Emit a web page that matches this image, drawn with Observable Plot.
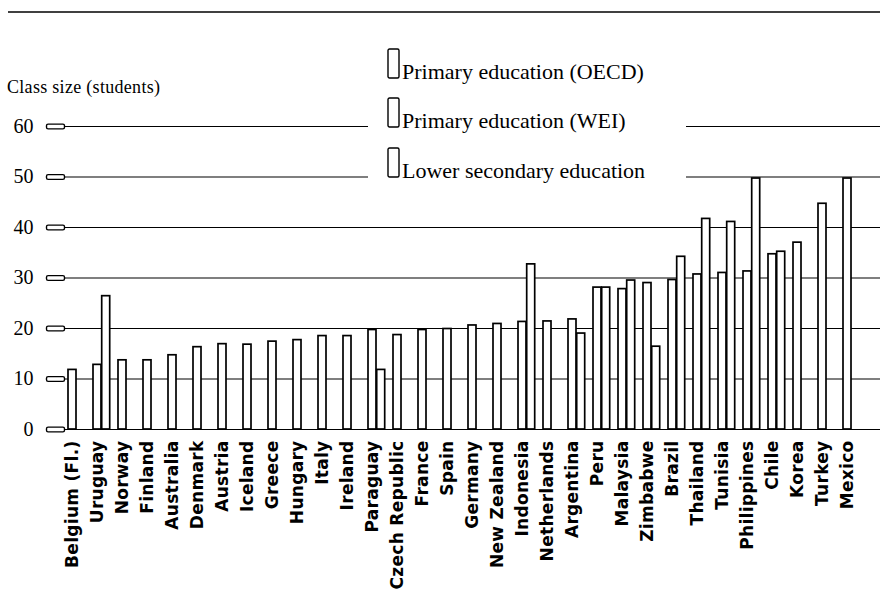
<!DOCTYPE html>
<html>
<head>
<meta charset="utf-8">
<script src="https://cdn.jsdelivr.net/npm/d3@7"></script>
<script src="https://cdn.jsdelivr.net/npm/@observablehq/plot@0.6"></script>
<style>
  html, body { margin: 0; padding: 0; background: #fff; }
  #wrap { position: relative; width: 886px; height: 592px; overflow: hidden; background: #fff; }
  #wrap > svg.overlay { position: absolute; left: 0; top: 0; pointer-events: none; }
  #chart { position: absolute; left: 0; top: 0; }
  #chart svg [aria-label="x-axis tick label"] text { letter-spacing: 0.3px; }
</style>
</head>
<body>
<div id="wrap"><div id="chart"></div></div>
<script>
// ---- data ----
const countries = ["Belgium (Fl.)", "Uruguay", "Norway", "Finland", "Australia", "Denmark", "Austria", "Iceland",
  "Greece", "Hungary", "Italy", "Ireland", "Paraguay", "Czech Republic", "France", "Spain", "Germany",
  "New Zealand", "Indonesia", "Netherlands", "Argentina", "Peru", "Malaysia", "Zimbabwe", "Brazil",
  "Thailand", "Tunisia", "Philippines", "Chile", "Korea", "Turkey", "Mexico"];
const primaryOECD = [11.8, null, 13.7, 13.7, 14.7, 16.3, 16.9, 16.8, 17.4, 17.7, 18.5, 18.5, null, 18.7, 19.7, 19.9, 20.6,
  20.9, null, 21.4, null, null, null, null, null, null, null, null, null, 37.0, 44.7, 49.7];
const primaryWEI = [null, 12.8, null, null, null, null, null, null, null, null, null, null, 19.7, null, null, null, null,
  null, 21.3, null, 21.8, 28.1, 27.8, 29.0, 29.6, 30.7, 31.0, 31.3, 34.7, null, null, null];
const lowerSecondary = [null, 26.4, null, null, null, null, null, null, null, null, null, null, 11.8, null, null, null, null,
  null, 32.7, null, 19.0, 28.1, 29.5, 16.4, 34.2, 41.7, 41.1, 49.7, 35.2, null, null, null];
const seriesNames = ["Primary education (OECD)", "Primary education (WEI)", "Lower secondary education"];
const yTicks = [0, 10, 20, 30, 40, 50, 60];
const yTitle = "Class size (students)";

// ---- tables built from the arrays ----
const primaryRows = countries.map((c, i) => ({
  country: c,
  series: primaryOECD[i] != null ? seriesNames[0] : seriesNames[1],
  value: primaryOECD[i] != null ? primaryOECD[i] : primaryWEI[i]
})).filter(d => d.value != null);
const secondaryRows = countries.map((c, i) => ({country: c, series: seriesNames[2], value: lowerSecondary[i]}))
  .filter(d => d.value != null);

// rounded box symbol used for the y ticks
const boxSymbol = {
  draw(ctx) {
    const w = 9, h = 2.4, r = 1.6;
    ctx.moveTo(-w + r, -h); ctx.lineTo(w - r, -h); ctx.arcTo(w, -h, w, -h + r, r);
    ctx.lineTo(w, h - r); ctx.arcTo(w, h, w - r, h, r);
    ctx.lineTo(-w + r, h); ctx.arcTo(-w, h, -w, h - r, r);
    ctx.lineTo(-w, -h + r); ctx.arcTo(-w, -h, -w + r, -h, r);
    ctx.closePath();
  }
};

const barW = 8.7;
const chart = Plot.plot({
  width: 886,
  height: 592,
  marginLeft: 64,
  marginRight: 6,
  marginTop: 126,
  marginBottom: 163,
  style: {background: "white", color: "black", fontFamily: "Liberation Serif", overflow: "visible"},
  x: {domain: countries, range: [67.65, 877.4], paddingInner: 0.663, paddingOuter: 0, align: 0, label: null},
  y: {domain: [0, 60], label: null},
  marks: [
    Plot.gridY(yTicks, {stroke: "black", strokeOpacity: 1, strokeWidth: 1.2}),
    Plot.axisY(yTicks, {tickSize: 0, tickPadding: 31, fontSize: 20, fontFamily: "Liberation Serif", tickFormat: d => String(d), label: null}),
    Plot.dot(yTicks, {y: d => d, frameAnchor: "left", dx: -9, symbol: boxSymbol, fill: "white", stroke: "black", strokeWidth: 1.4}),
    Plot.barY(primaryRows, {x: "country", y: "value", fill: "white", stroke: "black", strokeWidth: 1.7}),
    Plot.barY(secondaryRows, {x: "country", y: "value", dx: barW, fill: "white", stroke: "black", strokeWidth: 1.7}),
    Plot.axisX({tickSize: 0, tickPadding: 11, tickRotate: -90, fontSize: 17, fontWeight: "bold", fontFamily: "DejaVu Sans", label: null})
  ]
});
document.getElementById("chart").appendChild(chart);

// ---- overlay: top rule, title and legend ----
const ns = "http://www.w3.org/2000/svg";
const ov = d3.select("#wrap").append("svg").attr("class", "overlay")
  .attr("width", 886).attr("height", 592).attr("xmlns", ns);
ov.append("line").attr("x1", 8).attr("x2", 880).attr("y1", 12).attr("y2", 12)
  .attr("stroke", "black").attr("stroke-width", 1.3);
ov.append("text").attr("x", 7).attr("y", 93).text(yTitle)
  .attr("font-family", "Liberation Serif").attr("font-size", 18).attr("letter-spacing", 0.3);
ov.append("rect").attr("x", 368).attr("y", 40).attr("width", 318).attr("height", 146).attr("fill", "white");
const legendY = [49, 98, 148];
const leg = ov.selectAll("g.leg").data(seriesNames).join("g").attr("class", "leg")
  .attr("transform", (d, i) => `translate(388,${legendY[i]})`);
leg.append("rect").attr("x", 0).attr("y", 0).attr("width", 11).attr("height", 29).attr("rx", 1.5)
  .attr("fill", "white").attr("stroke", "black").attr("stroke-width", 1.4);
leg.append("text").attr("x", 14).attr("y", 30).text(d => d)
  .attr("font-family", "Liberation Serif").attr("font-size", 22);
</script>
</body>
</html>
